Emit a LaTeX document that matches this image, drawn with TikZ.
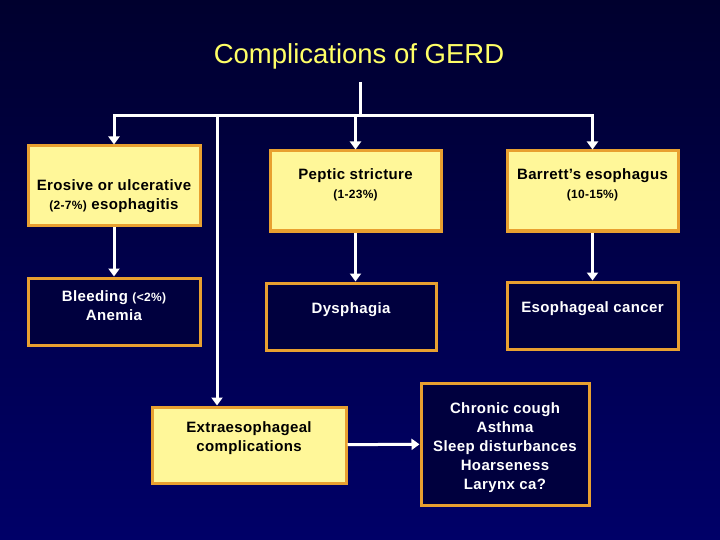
\documentclass[tikz,border=0pt]{standalone}
\usepackage{fontspec}
\setmainfont{Liberation Sans}
\newfontfamily\boxfont[LetterSpace=2.5]{Liberation Sans}
\usepackage{xcolor}
\usetikzlibrary{arrows.meta,positioning}

\definecolor{bgtop}{RGB}{0,0,46}
\definecolor{bgbottom}{RGB}{0,0,104}
\definecolor{navyfill}{RGB}{0,0,62}
\definecolor{paleyellow}{RGB}{255,247,153}
\definecolor{rimorange}{RGB}{232,160,48}
\definecolor{titleyellow}{RGB}{255,255,102}

\newcommand{\pctsize}{\fontsize{12}{13}\selectfont}

\begin{document}
\begin{tikzpicture}[x=1pt, y=-1pt,
  litebox/.style={draw=rimorange, line width=3pt, fill=paleyellow,
                  text=black, align=center, inner sep=0pt,
                  font=\boxfont\bfseries\fontsize{15}{19}\selectfont},
  darkbox/.style={litebox, fill=navyfill, text=white},
  lift/.style={text depth=#1},
  sink/.style={text height=#1},
  arr/.style={-{Triangle[length=8pt, width=11pt]}, line width=3pt, white},
  wire/.style={line width=3pt, white}
]
  % Canvas
  \fill[top color=bgtop, bottom color=bgbottom] (0,0) rectangle (720,540);
  \useasboundingbox (0,0) rectangle (720,540);
  \node[text=titleyellow, font=\fontsize{27.5}{30}\selectfont] (title) at (359,56) {Complications of GERD};
  % Row A
  \node[litebox, sink=50pt, minimum width=172pt, minimum height=80pt] (erosive) at (114,186)
    {Erosive or ulcerative\\{\pctsize(2-7\%)} esophagitis};
  \node[litebox, lift=15pt, minimum width=171pt, minimum height=80pt] (peptic) at (355.5,191)
    {Peptic stricture\\{\pctsize(1-23\%)}};
  \node[litebox, lift=15pt, minimum width=171pt, minimum height=80pt] (barrett) at (592.5,191)
    {Barrett’s esophagus\\{\pctsize(10-15\%)}};
  % Row B
  \node[darkbox, lift=12pt, minimum width=172pt, minimum height=67pt] (bleeding) at (114,311.5)
    {Bleeding {\pctsize(<2\%)}\\Anemia};
  \node[darkbox, lift=16pt, minimum width=170pt, minimum height=67pt] (dysphagia) at (351,316.5)
    {Dysphagia};
  \node[darkbox, lift=16pt, minimum width=171pt, minimum height=67pt] (cancer) at (592.5,315.5)
    {Esophageal cancer};
  % Row C
  \node[litebox, lift=16pt, minimum width=194pt, minimum height=76pt] (extra) at (249,445)
    {Extraesophageal\\complications};
  \node[darkbox, sink=94pt, minimum width=168pt, minimum height=122pt] (symptoms) at (505,444)
    {Chronic cough\\Asthma\\Sleep disturbances\\Hoarseness\\Larynx ca?};
  % Tree
  \coordinate (top) at (360,82);
  \coordinate (fork) at (360,116);
  \coordinate (split) at (217,116);
  \draw[wire] (top) -- (fork);
  \draw[wire, line cap=rect] (erosive.north |- fork) -- (barrett.north |- fork);
  \draw[arr] (erosive.north |- fork) -- (erosive.north);
  \draw[arr] (peptic.north |- fork) -- (peptic.north);
  \draw[arr] (barrett.north |- fork) -- (barrett.north);
  \draw[arr] (split) -- (split |- extra.north);
  % Flow
  \draw[arr] (erosive) -- (bleeding);
  \draw[arr] (peptic.south) -- (peptic.south |- dysphagia.north);
  \draw[arr] (barrett) -- (cancer);
  \draw[arr] (extra) -- (symptoms);
\end{tikzpicture}
\end{document}
